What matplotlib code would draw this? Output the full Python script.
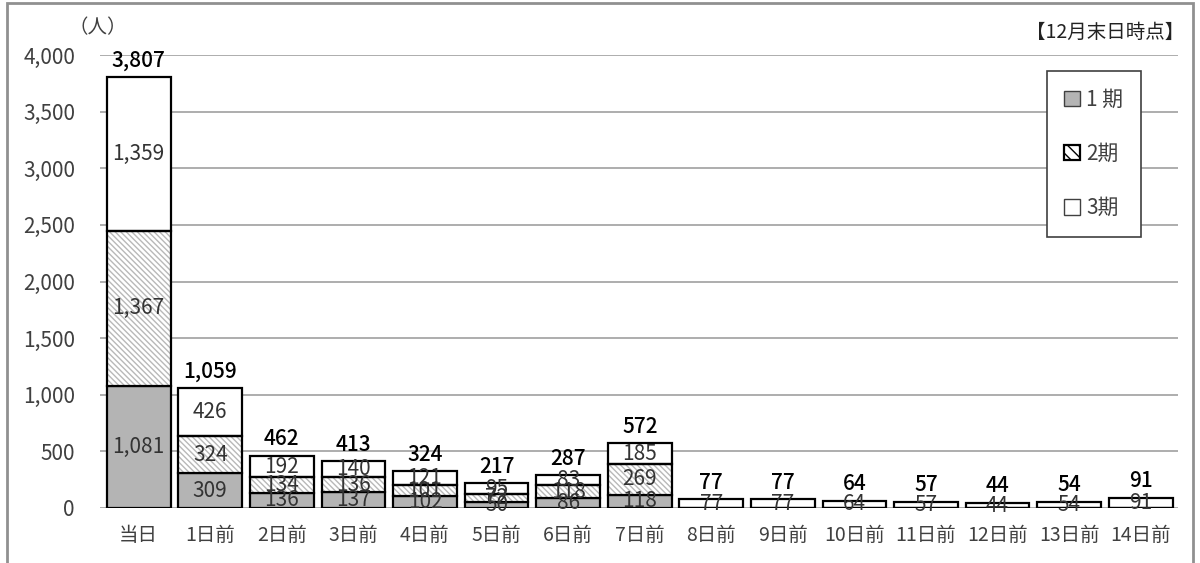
import matplotlib.pyplot as plt
from matplotlib.patches import Rectangle, Patch
import numpy as np

plt.rcParams['font.family'] = ['Noto Sans CJK JP', 'DejaVu Sans']

categories = ['当日', '1日前', '2日前', '3日前', '4日前', '5日前', '6日前', '7日前',
              '8日前', '9日前', '10日前', '11日前', '12日前', '13日前', '14日前']
term1 = [1081, 309, 136, 137, 102, 50, 86, 118, 0, 0, 0, 0, 0, 0, 0]
term2 = [1367, 324, 134, 136, 101, 72, 118, 269, 0, 0, 0, 0, 0, 0, 0]
term3 = [1359, 426, 192, 140, 121, 95, 83, 185, 77, 77, 64, 57, 44, 54, 91]
series_names = ['1 期', '2期', '3期']

t1 = np.array(term1)
t2 = np.array(term2)
t3 = np.array(term3)
totals = t1 + t2 + t3
x = np.arange(len(categories))

fig = plt.figure(figsize=(12, 5.63), dpi=100)
ax = fig.add_axes([100 / 1200, 55 / 563, 1078 / 1200, 453 / 563])

w = 0.89
# 1期
ax.bar(x, t1, w, color='#b4b4b4', edgecolor='black', linewidth=1.6, zorder=3)
# 2期 (hatch drawn in light grey, outline in black)
ax.bar(x, t2, w, bottom=t1, color='white', edgecolor='#b8b8b8', hatch='\\\\\\\\\\\\',
       linewidth=0, zorder=3)
ax.bar(x, t2, w, bottom=t1, fill=False, edgecolor='black', linewidth=1.6, zorder=4)
# 3期
ax.bar(x, t3, w, bottom=t1 + t2, color='white', edgecolor='black', linewidth=1.6, zorder=3)

def fmt(v):
    return f'{v:,}'

for i in x:
    for val, base in ((t1[i], 0), (t2[i], t1[i]), (t3[i], t1[i] + t2[i])):
        if val > 0:
            ax.text(i, base + val / 2, fmt(val), ha='center', va='center',
                    fontsize=15, color='#333333', zorder=5)
    ax.annotate(fmt(totals[i]), (i, totals[i]), xytext=(0, 4), textcoords='offset points',
                ha='center', va='bottom', fontsize=15, color='black', fontweight='medium',
                zorder=5)

ax.set_xlim(-0.54, 14.52)
ax.set_ylim(0, 4000)
ax.set_yticks(np.arange(0, 4001, 500))
ax.set_yticklabels([fmt(v) for v in range(0, 4001, 500)])
ax.set_xticks(x)
ax.set_xticklabels(categories)
ax.tick_params(axis='y', length=0, labelsize=15, labelcolor='#404040', pad=18)
ax.tick_params(axis='x', length=0, labelsize=14, labelcolor='#404040', pad=12)
ax.grid(axis='y', color='#a0a0a0', linewidth=1.2, zorder=0)
ax.set_axisbelow(True)
for s in ax.spines.values():
    s.set_visible(False)

handles = [
    Patch(facecolor='#b4b4b4', edgecolor='#404040', linewidth=1),
    Patch(facecolor='white', edgecolor='black', hatch='\\\\\\', linewidth=1.6),
    Patch(facecolor='white', edgecolor='#404040', linewidth=1),
]
leg = ax.legend(handles, series_names, loc='upper right',
                bbox_to_anchor=(1141 / 1200, 1 - 71 / 563), bbox_transform=fig.transFigure,
                fontsize=15, handlelength=0.75, handleheight=0.75, handletextpad=0.3,
                labelspacing=1.55, borderpad=0.85, borderaxespad=0, fancybox=False,
                framealpha=1, edgecolor='#404040')
leg.get_frame().set_linewidth(1.2)
for t in leg.get_texts():
    t.set_color('#404040')

fig.text(98 / 1200, 1 - 28 / 563, '（人）', ha='center', va='center', fontsize=14,
         color='#404040')
fig.text(1184 / 1200, 1 - 32 / 563, '【12月末日時点】', ha='right', va='center',
         fontsize=14, color='#222222')

# outer frame
fig.add_artist(Rectangle((7 / 1200, -0.05), 1186 / 1200, 1.05 - 3 / 563,
                         transform=fig.transFigure, fill=False, edgecolor='#909090',
                         linewidth=2))

fig.savefig('out.png', dpi=100)
